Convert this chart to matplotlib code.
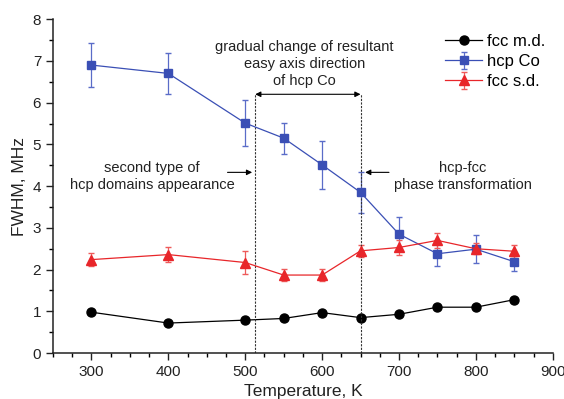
import matplotlib
matplotlib.use("Agg")
import matplotlib.pyplot as plt
from matplotlib.ticker import MultipleLocator

plt.rcParams['font.family'] = ['Liberation Sans', 'DejaVu Sans']

temps = [300, 400, 500, 550, 600, 650, 700, 750, 800, 850]
fcc_md = [0.98, 0.72, 0.79, 0.83, 0.97, 0.85, 0.93, 1.10, 1.10, 1.28]
hcp_co = [6.90, 6.70, 5.51, 5.15, 4.51, 3.85, 2.85, 2.38, 2.49, 2.19]
hcp_err = [0.53, 0.50, 0.55, 0.37, 0.57, 0.50, 0.40, 0.30, 0.33, 0.23]
fcc_sd = [2.24, 2.36, 2.17, 1.87, 1.87, 2.45, 2.53, 2.70, 2.50, 2.44]
fcc_sd_err = [0.15, 0.17, 0.28, 0.15, 0.15, 0.15, 0.18, 0.18, 0.13, 0.15]

boundary_low = 513
boundary_high = 650
arrow_y = 6.2

fig = plt.figure(figsize=(5.64, 3.99), dpi=100)
ax = fig.add_axes([0.094, 0.115, 0.886, 0.837])

ax.plot(temps, fcc_md, color='black', lw=0.9, marker='o', ms=6.5, label='fcc m.d.')
ax.errorbar(temps, hcp_co, yerr=hcp_err, color='#3a4fb5', lw=0.9, marker='s', ms=6,
            elinewidth=0.9, capsize=2.5, ecolor='#5a6cc8', label='hcp Co')
ax.errorbar(temps, fcc_sd, yerr=fcc_sd_err, color='#e8262a', lw=0.9, marker='^', ms=6.5,
            elinewidth=0.9, capsize=2.5, ecolor='#ee5a5a', label='fcc s.d.')

for xv in (boundary_low, boundary_high):
    ax.plot([xv, xv], [0, arrow_y], color='#333333', lw=0.8, ls=(0, (2, 1.2)))
ax.annotate('', xy=(boundary_low, arrow_y), xytext=(boundary_high, arrow_y),
            arrowprops=dict(arrowstyle='<|-|>', color='black', lw=0.8, mutation_scale=8,
                            shrinkA=0, shrinkB=0))

ax.text(577, 6.93, 'gradual change of resultant\neasy axis direction\nof hcp Co',
        ha='center', va='center', fontsize=10.5, color='#222222', linespacing=1.3)
ax.text(379, 4.23, 'second type of\nhcp domains appearance', ha='center', va='center',
        fontsize=10.5, color='#222222', linespacing=1.3)
ax.annotate('', xy=(509, 4.33), xytext=(477, 4.33),
            arrowprops=dict(arrowstyle='-|>', color='black', lw=0.8, mutation_scale=8,
                            shrinkA=0, shrinkB=0))
ax.text(783, 4.23, 'hcp-fcc\nphase transformation', ha='center', va='center',
        fontsize=10.5, color='#222222', linespacing=1.3)
ax.annotate('', xy=(656, 4.33), xytext=(687, 4.33),
            arrowprops=dict(arrowstyle='-|>', color='black', lw=0.8, mutation_scale=8,
                            shrinkA=0, shrinkB=0))

ax.set_xlim(250, 900)
ax.set_ylim(0, 8)
ax.xaxis.set_major_locator(MultipleLocator(100))
ax.xaxis.set_minor_locator(MultipleLocator(25))
ax.yaxis.set_major_locator(MultipleLocator(1))
ax.yaxis.set_minor_locator(MultipleLocator(0.5))
ax.tick_params(which='major', direction='out', length=5, width=1, labelsize=11, colors='#222222')
ax.tick_params(which='minor', direction='out', length=3, width=1)
for s in ('top', 'right'):
    ax.spines[s].set_visible(False)
for s in ('left', 'bottom'):
    ax.spines[s].set_linewidth(1.1)
    ax.spines[s].set_color('#222222')

ax.set_xlabel('Temperature, K', fontsize=12.5, color='#222222', labelpad=4)
ax.set_ylabel('FWHM, MHz', fontsize=12.5, color='#222222', labelpad=4)

leg = ax.legend(loc='upper right', bbox_to_anchor=(1.015, 1.0), frameon=False, fontsize=12,
                handlelength=2.2, handletextpad=0.3, labelspacing=0.3)

fig.savefig('out.png', dpi=100)
